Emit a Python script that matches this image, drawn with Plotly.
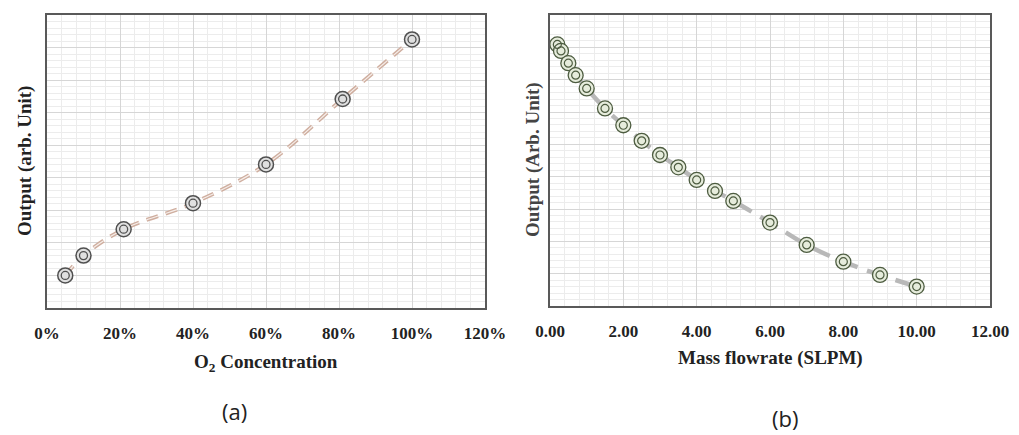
import plotly.graph_objects as go

# Panel (a): O2 concentration vs output
o2_conc = [0.05, 0.10, 0.21, 0.40, 0.60, 0.81, 1.00]
o2_output = [1.00, 1.61, 2.42, 3.22, 4.41, 6.42, 8.25]

# Panel (b): mass flowrate vs output
flow_slpm = [0.2, 0.3, 0.5, 0.7, 1.0, 1.5, 2.0, 2.5, 3.0, 3.5, 4.0, 4.5, 5.0, 6.0, 7.0, 8.0, 9.0, 10.0]
flow_output = [8.09, 7.89, 7.51, 7.14, 6.73, 6.11, 5.59, 5.11, 4.67, 4.29, 3.90, 3.56, 3.25, 2.58, 1.89, 1.37, 0.96, 0.60]

x_ticks_a = [0, 0.2, 0.4, 0.6, 0.8, 1.0, 1.2]
x_labels_a = ["0%", "20%", "40%", "60%", "80%", "100%", "120%"]
x_ticks_b = [0, 2, 4, 6, 8, 10, 12]
x_labels_b = ["0.00", "2.00", "4.00", "6.00", "8.00", "10.00", "12.00"]

SERIF = "Liberation Serif"
fig = go.Figure()

# Panel (a) trend line (double-line dashed look)
fig.add_trace(go.Scatter(x=o2_conc, y=o2_output, mode="lines", line=dict(color="#cfae9f", width=4, dash="12px,8px", shape="spline"),
                         xaxis="x", yaxis="y", hoverinfo="skip", showlegend=False))
fig.add_trace(go.Scatter(x=o2_conc, y=o2_output, mode="lines", line=dict(color="#f6eeea", width=1.2, dash="12px,8px", shape="spline"),
                         xaxis="x", yaxis="y", hoverinfo="skip", showlegend=False))
fig.add_trace(go.Scatter(x=o2_conc, y=o2_output, mode="markers",
                         marker=dict(symbol="circle", size=15, color="#e0e0e0", line=dict(color="#505050", width=1.5)),
                         xaxis="x", yaxis="y", showlegend=False))
fig.add_trace(go.Scatter(x=o2_conc, y=o2_output, mode="markers",
                         marker=dict(symbol="circle-open", size=8, color="#505050", line=dict(color="#505050", width=1.3)),
                         xaxis="x", yaxis="y", showlegend=False))

# Panel (b)
fig.add_trace(go.Scatter(x=flow_slpm, y=flow_output, mode="lines", line=dict(color="#b8b8b8", width=4.5, dash="20px,10px", shape="spline"),
                         xaxis="x2", yaxis="y2", hoverinfo="skip", showlegend=False))
fig.add_trace(go.Scatter(x=flow_slpm, y=flow_output, mode="markers",
                         marker=dict(symbol="circle", size=15, color="#e6ecdc", line=dict(color="#4d5c40", width=1.3)),
                         xaxis="x2", yaxis="y2", showlegend=False))
fig.add_trace(go.Scatter(x=flow_slpm, y=flow_output, mode="markers",
                         marker=dict(symbol="circle-open", size=8, color="#4d5c40", line=dict(color="#4d5c40", width=1.2)),
                         xaxis="x2", yaxis="y2", showlegend=False))

grid_major = "#d6d6d6"
grid_minor = "#ececec"
frame = "#595959"

def xaxis(domain, rng, tickvals, ticktext, minor_dtick, anchor):
    return dict(domain=domain, range=rng, tickvals=tickvals, ticktext=["<b>%s</b>" % t for t in ticktext],
                showgrid=True, gridcolor=grid_major, gridwidth=1,
                minor=dict(dtick=minor_dtick, showgrid=True, gridcolor=grid_minor, gridwidth=1),
                showline=True, linecolor=frame, linewidth=1.5, mirror=True, zeroline=False,
                ticks="", ticklabelstandoff=9, automargin=False,
                tickfont=dict(family=SERIF, size=17, color="#222222"), anchor=anchor, fixedrange=True)

def yaxis(domain, anchor):
    return dict(domain=domain, range=[0, 9], dtick=1, showticklabels=False,
                showgrid=True, gridcolor=grid_major, gridwidth=1,
                minor=dict(dtick=0.2, showgrid=True, gridcolor=grid_minor, gridwidth=1),
                showline=True, linecolor=frame, linewidth=1.5, mirror=True, zeroline=False,
                ticks="", anchor=anchor, automargin=False, fixedrange=True)

def label(text, x, y, size, family=SERIF, color="#222222", angle=0):
    return dict(text=text, x=x / 1019, y=1 - y / 435, xref="paper", yref="paper",
                xanchor="center", yanchor="middle", showarrow=False, textangle=angle,
                font=dict(family=family, size=size, color=color))

fig.update_layout(
    template="none",
    width=1019, height=435, margin=dict(l=0, r=0, t=0, b=0, pad=0),
    paper_bgcolor="white", plot_bgcolor="white",
    xaxis=xaxis([47/1019, 485/1019], [0, 1.2], x_ticks_a, x_labels_a, 0.04, "y"),
    yaxis=yaxis([(435-308)/435, (435-15)/435], "x"),
    xaxis2=xaxis([550/1019, 990/1019], [0, 12], x_ticks_b, x_labels_b, 0.4, "y2"),
    yaxis2=yaxis([(435-306)/435, (435-15)/435], "x2"),
    annotations=[
        label("<b>O<sub>2</sub> Concentration</b>", 266, 363, 19),
        label("<b>Mass flowrate (SLPM)</b>", 770, 358, 19),
        label("<b>Output (arb. Unit)</b>", 25, 161, 19, angle=-90),
        label("<b>Output (Arb. Unit)</b>", 533, 160, 19, color="#444444", angle=-90),
        label("(a)", 234, 411, 22, family="Open Sans"),
        label("(b)", 785, 418, 22, family="Open Sans"),
    ],
)

fig.write_html("out.html")
